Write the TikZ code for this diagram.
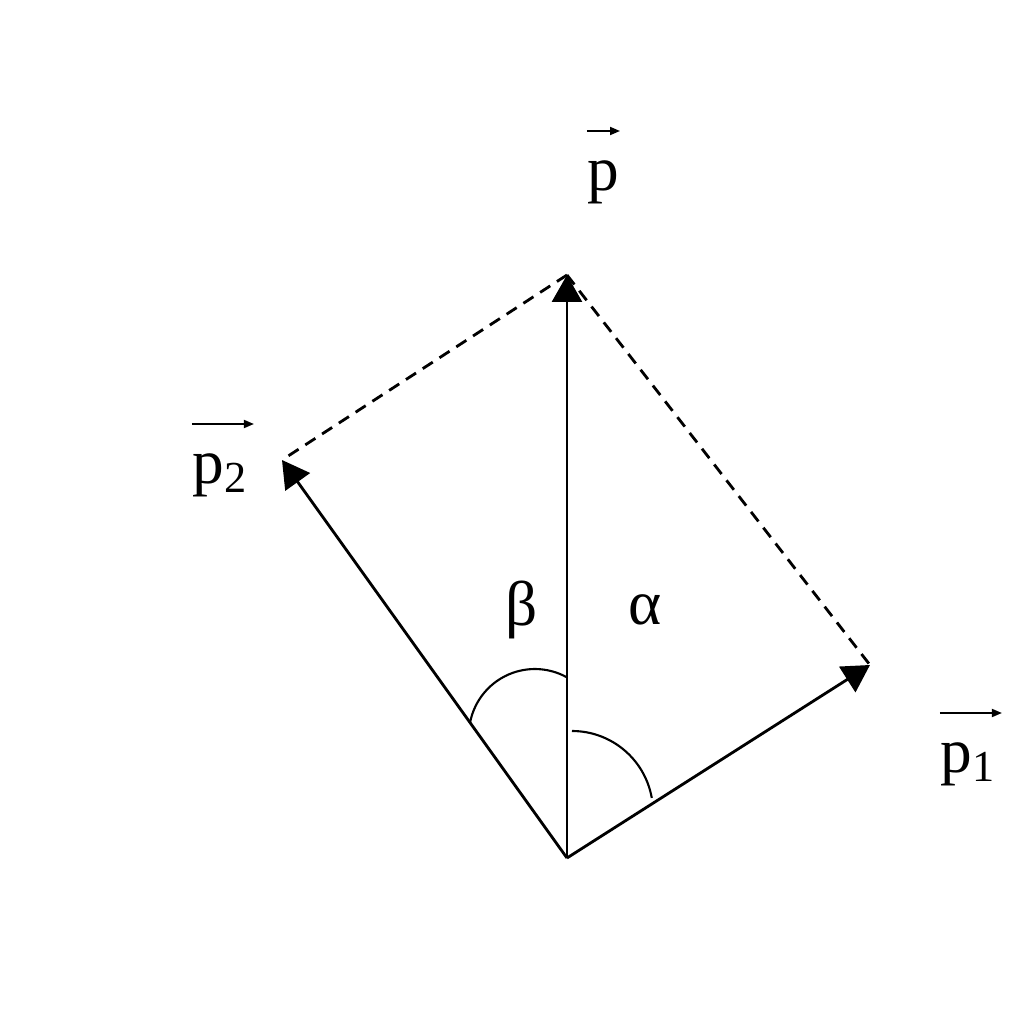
\documentclass[tikz,border=0pt]{standalone}
\usepackage{fontspec}
\setmainfont{Liberation Serif}
\usetikzlibrary{arrows.meta}
\tikzset{
    vec/.style = {
        draw,
        thick,
        -{Triangle[length=2.7mm, width=3mm]},
        },
    comp/.style = {
        draw,
        thick,
        dash pattern=on 1.2mm off 0.8mm,
        },
    angle arc/.style = {
        draw,
        semithick,
        },
    lbl/.style = {
        font=\fontsize{18}{20}\selectfont,
        inner sep=0pt,
        },
    over arrow/.style = {
        draw,
        line width=0.5pt,
        -{Triangle[length=1mm, width=0.8mm]},
        },
}

\begin{document}
\begin{tikzpicture}
            \useasboundingbox (-5.67,-1.66) rectangle (4.57,8.58);
            \coordinate (O) at (0,0);
            \coordinate (P) at (0,5.83);
            \coordinate (P1) at (3.03,1.93);
            \coordinate (P2) at (-2.85,3.98);

            \node[lbl, anchor=north west] (lp) at (0.20,6.98) {p};
            \node[lbl, anchor=north west] (lp1) at (3.73,1.16) {p\textsubscript{1}};
            \node[lbl, anchor=north west] (lp2) at (-3.75,4.05) {p\textsubscript{2}};
            \node[lbl] (alpha) at (0.78,2.48) {α};
            \node[lbl] (beta) at (-0.45,2.48) {β};

            % arrows over the labels
            \path[over arrow] ([yshift=2.9mm]lp.north west) -- ([yshift=2.9mm]lp.north east);
            \path[over arrow] ([yshift=2.9mm]lp1.north west) -- ([yshift=2.9mm, xshift=0.5mm]lp1.north east);
            \path[over arrow] ([yshift=2.9mm]lp2.north west) -- ([yshift=2.9mm, xshift=0.5mm]lp2.north east);

            \path[comp] (P) -- (P2);
            \path[comp] (P) -- (P1);
            \path[vec] (O) -- (P);
            \path[vec] (O) -- (P1);
            \path[vec] (O) -- (P2);

            \path[angle arc] (0.05,1.27) arc[start angle=90, end angle=10, radius=0.81];
            \path[angle arc] (-0.97,1.35) arc[start angle=169.5, end angle=61.5, radius=0.66];
        \end{tikzpicture}
\end{document}
